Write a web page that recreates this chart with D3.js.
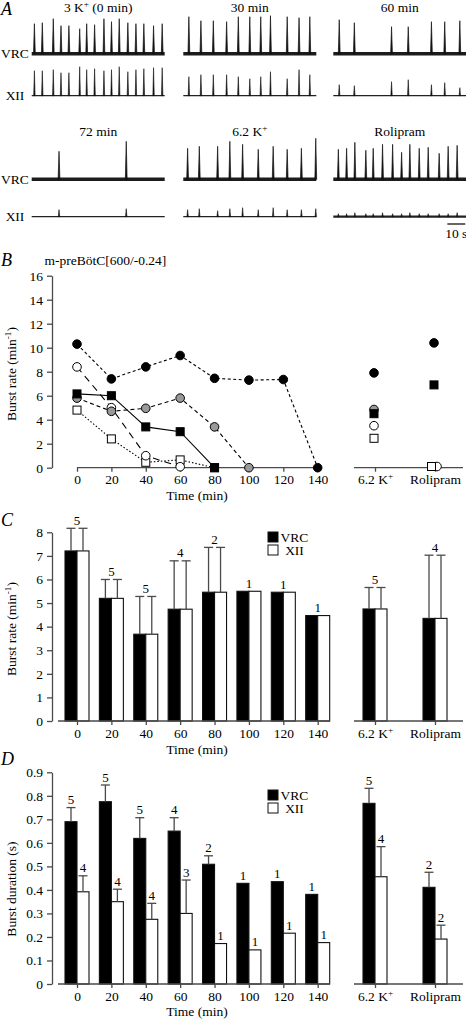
<!DOCTYPE html>
<html><head><meta charset="utf-8">
<script src="https://cdn.jsdelivr.net/npm/d3@7"></script>
<style>
body{margin:0;background:#fff}
svg{display:block}
text{font-family:"Liberation Serif","Times New Roman",serif;}
</style>
</head><body>
<script>
// ---------------- DATA ----------------
// Panel A: recordings (burst times in s, amplitudes in a.u.)
const traceTitles = ["3 K⁺ (0 min)", "30 min", "60 min", "72 min", "6.2 K⁺", "Rolipram"];
const burstTimes = [
  [1.5,5.9,12.0,16.3,20.7,26.7,30.6,35.0,40.2,44.4,48.7,53.5,58.0,62.4,67.8,72.6],
  [3.1,9.8,16.7,24.1,30.6,37.0,43.1,48.5,57.8,64.4,70.4],
  [3.3,11.7,32.4,41.7,54.6,62.0,70.4],
  [15.2,52.6],
  [2.4,8.9,19.1,25.9,33.0,41.7,50.0,57.8,65.7,73.7],
  [2.8,7.4,12.0,18.1,22.2,27.4,33.0,38.0,42.6,47.8,52.8,58.9,63.9,68.9]
];
const vrcAmps = [
  [3.0,3.1,3.5,2.8,2.8,2.5,3.0,2.9,3.5,3.2,3.5,3.1,3.0,3.0,2.8,3.0],
  [3.7,3.3,3.3,3.2,3.7,3.7,3.7,3.8,3.7,3.6,3.7],
  [3.4,3.1,2.7,2.7,3.2,3.2,3.3],
  [2.8,3.8],
  [3.1,3.3,3.3,3.8,3.5,3.0,3.3,3.0,3.1,4.1],
  [3.0,3.1,3.7,2.9,3.1,3.5,3.5,2.7,3.5,3.1,3.2,2.6,3.3,3.4]
];
const xiiAmps = [
  [2.5,2.5,2.6,2.3,2.3,2.9,2.6,2.7,2.5,2.6,2.9,2.4,2.6,2.7,2.8,2.8],
  [1.9,2.1,2.1,2.1,1.9,1.7,1.9,2.4,1.7,2.6,2.1],
  [1.1,1.0,1.4,1.6,1.1,1.3,0.8],
  [0.7,0.8],
  [0.7,0.8,0.6,0.8,0.9,0.7,0.9,0.7,0.7,0.8],
  [0.3,0.3,0.4,0.3,0.3,0.4,0.3,0.3,0.4,0.3,0.3,0.3,0.3,0.4]
];
const traceDuration = 74;   // s
const scaleBarSec = 10;     // s

// Panel B: burst rate per preparation
const timePts = [0,20,40,60,80,100,120,140];
const bFilledCircle = [10.3,7.4,8.4,9.35,7.45,7.3,7.35,0];
const bOpenCircle   = [8.4,5.0,1.0,0.08];
const bGrayCircle   = [5.8,4.7,4.95,5.8,3.4,0];
const bFilledSquare = [6.15,6.0,3.4,3.0,0];
const bOpenSquare   = [4.8,2.4,0.45,0.65,0];
const conditions = ["6.2 K⁺","Rolipram"];
const bCondFilledCircle = [7.9,10.4];
const bCondOpenCircle   = [3.5,0.1];
const bCondGrayCircle   = [4.85,null];
const bCondFilledSquare = [4.5,6.9];
const bCondOpenSquare   = [2.45,0.1];
const bTicks = [0,2,4,6,8,10,12,14,16];

// Panel C: mean burst rate
const cVRC    = [7.21,5.2,3.68,4.74,5.46,5.5,5.46,4.47];
const cVRCerr = [0.96,0.8,1.6,2.05,1.9,0,0,0];
const cXII    = [7.21,5.2,3.68,4.74,5.46,5.5,5.46,4.47];
const cXIIerr = [0.96,0.8,1.6,2.05,1.9,0,0,0];
const cN      = [5,5,5,4,2,1,1,1];
const cCondVRC    = [4.75,4.35];
const cCondVRCerr = [0.91,2.68];
const cCondXII    = [4.75,4.35];
const cCondXIIerr = [0.91,2.68];
const cCondN      = [5,4];
const cTicks = [0,1,2,3,4,5,6,7,8];

// Panel D: burst duration
const dVRC    = [0.69,0.775,0.619,0.65,0.509,0.428,0.435,0.381];
const dVRCerr = [0.06,0.071,0.088,0.057,0.036,0,0,0];
const dXII    = [0.392,0.35,0.275,0.30,0.172,0.145,0.216,0.176];
const dXIIerr = [0.068,0.053,0.068,0.142,0,0,0,0];
const dVRCn   = [5,5,5,4,2,1,1,1];
const dXIIn   = [4,4,4,3,1,1,1,1];
const dCondVRC    = [0.768,0.411];
const dCondVRCerr = [0.064,0.064];
const dCondXII    = [0.456,0.191];
const dCondXIIerr = [0.128,0.059];
const dCondVRCn   = [5,2];
const dCondXIIn   = [4,2];
const dTicks = [0,0.1,0.2,0.3,0.4,0.5,0.6,0.7,0.8,0.9];

const seriesNames = ["VRC","XII"];

// ---------------- HELPERS ----------------
const W = 466, H = 1019, FS = 13.5, AX = "#4a4a4a";
const svg = d3.select("body").append("svg").attr("width", W).attr("height", H);

function rich(sel, str) {
  sel.text(null);
  const supMap = {"⁺":"+","⁻":"-","¹":"1"};
  let buf = "", sup = false;
  const flush = () => {
    if (!buf) return;
    const t = sel.append("tspan").text(buf);
    if (sup) t.attr("baseline-shift","super").attr("font-size","68%");
    buf = "";
  };
  for (const ch of str) {
    const s = ch in supMap;
    if (s !== sup) { flush(); sup = s; }
    buf += s ? supMap[ch] : ch;
  }
  flush();
  return sel;
}
function text(x, y, str, opts = {}) {
  const t = svg.append("text").attr("x", x).attr("y", y)
    .attr("font-size", opts.size || FS)
    .attr("text-anchor", opts.anchor || "start")
    .attr("fill", "#000");
  if (opts.family) t.attr("font-family", opts.family);
  if (opts.italic) t.attr("font-style", "italic");
  if (opts.transform) t.attr("transform", opts.transform);
  rich(t, str);
  return t;
}
function styleAxis(g) {
  g.attr("font-family", null).attr("font-size", null);
  g.select(".domain").attr("stroke", AX).attr("stroke-width", 1.3);
  g.selectAll(".tick line").attr("stroke", AX).attr("stroke-width", 1.3);
  g.selectAll(".tick text").attr("font-size", FS).attr("fill", "#000")
    .attr("font-family", '"Liberation Serif","Times New Roman",serif');
}
function panelLetter(x, y, s) {
  text(x, y, s, {size: 18, italic: true, family: '"Liberation Sans",Arial,sans-serif'});
}

// ---------------- PANEL A ----------------
panelLetter(1, 15, "A");
const colX = [31.7, 183.3, 333.3], traceW = 133;
const rowY = [{title: 11.7, vrc: 53.7, xii: 95.7}, {title: 136.2, vrc: 179.3, xii: 216.7}];
const ampPx = d3.scaleLinear().domain([0, 1]).range([0, 10]);

rowY.forEach(r => {
  text(15, r.vrc + 4.5, "VRC", {anchor: "middle"});
  text(15, r.xii + 4.5, "XII", {anchor: "middle"});
});

traceTitles.forEach((title, i) => {
  const r = rowY[Math.floor(i / 3)], c = i % 3;
  const x = d3.scaleLinear().domain([0, traceDuration]).range([colX[c], colX[c] + traceW]);
  text(colX[c] + traceW / 2, r.title, title, {anchor: "middle"});
  const g = svg.append("g");
  // VRC baseline (noisy band)
  g.append("line").attr("x1", x(0)).attr("x2", x(traceDuration))
    .attr("y1", r.vrc).attr("y2", r.vrc).attr("stroke", "#1c1c1c").attr("stroke-width", 3.6);
  // XII baseline
  g.append("line").attr("x1", x(0)).attr("x2", x(traceDuration))
    .attr("y1", r.xii).attr("y2", r.xii).attr("stroke", "#222")
    .attr("stroke-width", i === 5 ? 2.2 : 1.2);
  const spike = (t, a, base, w) => {
    const xx = x(t), h = ampPx(a);
    return `M${xx - w},${base} L${xx},${base - h} L${xx + w},${base} Z`;
  };
  g.selectAll(".sv").data(burstTimes[i]).join("path")
    .attr("d", (t, k) => spike(t, vrcAmps[i][k], r.vrc, 0.9))
    .attr("fill", "#111").attr("stroke", "#111").attr("stroke-width", 0.7);
  g.selectAll(".sx").data(burstTimes[i]).join("path")
    .attr("d", (t, k) => spike(t, xiiAmps[i][k], r.xii, 0.7))
    .attr("fill", "#111").attr("stroke", "#111").attr("stroke-width", 0.6);
  if (i === 5) {
    svg.append("line").attr("x1", x(traceDuration - scaleBarSec) - 1).attr("x2", x(traceDuration) - 1)
      .attr("y1", 224).attr("y2", 224).attr("stroke", "#000").attr("stroke-width", 1.2);
    text((x(traceDuration - scaleBarSec) + x(traceDuration)) / 2 - 1, 237.5, "10 s", {anchor: "middle"});
  }
});

// ---------------- SHARED X SCALES ----------------
const xT = d3.scaleLinear().domain([0, 140]).range([77, 317.7]);
const xCond = d3.scalePoint().domain(conditions).range([375, 435]);
const yAxisX = 52;

function timeAxis(y, from, to) {
  const g = svg.append("g").attr("transform", `translate(0,${y})`)
    .call(d3.axisBottom(xT).tickValues(timePts).tickSize(4).tickSizeOuter(0).tickPadding(3));
  styleAxis(g);
  g.select(".domain").attr("d", `M${from},0H${to}`);
  const g2 = svg.append("g").attr("transform", `translate(0,${y})`)
    .call(d3.axisBottom(xCond).tickSize(4).tickSizeOuter(0).tickPadding(3));
  styleAxis(g2);
  g2.select(".domain").attr("d", `M354,0H463`);
  g2.selectAll(".tick text").each(function(d) { rich(d3.select(this), d); });
}
function yAxis(scale, ticks, fmt) {
  const g = svg.append("g").attr("transform", `translate(${yAxisX},0)`)
    .call(d3.axisLeft(scale).tickValues(ticks).tickSize(5).tickSizeOuter(0).tickPadding(4).tickFormat(fmt));
  styleAxis(g);
}

// ---------------- PANEL B ----------------
panelLetter(1, 266, "B");
text(44.5, 264.5, "m-preBötC[600/-0.24]");
const yB = d3.scaleLinear().domain([0, 16]).range([467.7, 275.7]);
yAxis(yB, bTicks, d3.format("d"));
timeAxis(467.7, 77, 318);
text(197, 499.5, "Time (min)", {anchor: "middle"});
text(0, 0, "Burst rate (min⁻¹)", {anchor: "middle", transform: "translate(15.5,374) rotate(-90)"});

const bSeries = [
  {vals: bOpenSquare,   shape: "square", fill: "#fff", dash: "1.5,2"},
  {vals: bOpenCircle,   shape: "circle", fill: "#fff", dash: "7,5"},
  {vals: bGrayCircle,   shape: "circle", fill: "#999", dash: "4,3"},
  {vals: bFilledSquare, shape: "square", fill: "#000", dash: null},
  {vals: bFilledCircle, shape: "circle", fill: "#000", dash: "3,2.5"}
];
const line = d3.line().x(d => xT(d.t)).y(d => yB(d.v));
bSeries.forEach(s => {
  const pts = s.vals.map((v, k) => ({t: timePts[k], v}));
  svg.append("path").attr("d", line(pts)).attr("fill", "none")
    .attr("stroke", "#000").attr("stroke-width", 1.1)
    .attr("stroke-dasharray", s.dash);
});
function marker(shape, cx, cy, fill) {
  if (shape === "circle") {
    svg.append("circle").attr("cx", cx).attr("cy", cy).attr("r", 4.3)
      .attr("fill", fill).attr("stroke", "#000").attr("stroke-width", 1);
  } else {
    svg.append("rect").attr("x", cx - 4).attr("y", cy - 4).attr("width", 8).attr("height", 8)
      .attr("fill", fill).attr("stroke", "#000").attr("stroke-width", 1);
  }
}
bSeries.forEach(s => {
  s.vals.forEach((v, k) => marker(s.shape, xT(timePts[k]), yB(v), s.fill));
});
const bCond = [
  {vals: bCondOpenCircle,   shape: "circle", fill: "#fff", nudge: 3},
  {vals: bCondGrayCircle,   shape: "circle", fill: "#999", nudge: 0},
  {vals: bCondFilledCircle, shape: "circle", fill: "#000", nudge: 0},
  {vals: bCondOpenSquare,   shape: "square", fill: "#fff", nudge: -2.5},
  {vals: bCondFilledSquare, shape: "square", fill: "#000", nudge: 0}
];
bCond.forEach(s => {
  s.vals.forEach((v, k) => {
    if (v == null) return;
    const cx = xCond(conditions[k]) + (conditions[k] === "Rolipram" ? s.nudge : 0) - 1;
    marker(s.shape, cx, yB(v), s.fill);
  });
});

// ---------------- BAR PANELS ----------------
const inner = d3.scaleBand().domain(seriesNames).range([-12, 12]).padding(0);
const fills = {VRC: "#000", XII: "#fff"};

function barGroup(cx, vals, errs, ns, y, pairLabel) {
  const tops = [];
  seriesNames.forEach((s, j) => {
    const x0 = cx + inner(s);
    const bw = inner.bandwidth();
    svg.append("rect").attr("x", x0).attr("y", y(vals[j])).attr("width", bw)
      .attr("height", y(0) - y(vals[j])).attr("fill", fills[s])
      .attr("stroke", "#111").attr("stroke-width", 1.1);
    let top = y(vals[j]);
    if (errs[j] > 0) {
      const ex = x0 + bw / 2, ey = y(vals[j] + errs[j]);
      svg.append("line").attr("x1", ex).attr("x2", ex).attr("y1", y(vals[j])).attr("y2", ey)
        .attr("stroke", AX).attr("stroke-width", 1.3);
      svg.append("line").attr("x1", ex - 4.5).attr("x2", ex + 4.5).attr("y1", ey).attr("y2", ey)
        .attr("stroke", AX).attr("stroke-width", 1.3);
      top = ey;
    }
    tops.push(top);
    if (!pairLabel) text(x0 + bw / 2, top - 3.5, String(ns[j]), {anchor: "middle", size: 13});
  });
  if (pairLabel) text(cx, Math.min(...tops) - 3.5, String(ns[0]), {anchor: "middle", size: 13});
}
function legend(x, y) {
  seriesNames.forEach((s, j) => {
    svg.append("rect").attr("x", x).attr("y", y + j * 13).attr("width", 10).attr("height", 10)
      .attr("fill", fills[s]).attr("stroke", "#111").attr("stroke-width", 1);
    text(x + 26.5, y + j * 13 + 10, s, {anchor: "middle"});
  });
}

// ---------------- PANEL C ----------------
panelLetter(1, 526, "C");
const yC = d3.scaleLinear().domain([0, 8]).range([721, 532.3]);
timePts.forEach((t, k) => barGroup(xT(t), [cVRC[k], cXII[k]], [cVRCerr[k], cXIIerr[k]], [cN[k], cN[k]], yC, true));
conditions.forEach((c, k) => barGroup(xCond(c), [cCondVRC[k], cCondXII[k]], [cCondVRCerr[k], cCondXIIerr[k]], [cCondN[k], cCondN[k]], yC, true));
yAxis(yC, cTicks, d3.format("d"));
timeAxis(721, 58, 330);
text(197, 754, "Time (min)", {anchor: "middle"});
text(0, 0, "Burst rate (min⁻¹)", {anchor: "middle", transform: "translate(15.5,629) rotate(-90)"});
legend(268, 532);

// ---------------- PANEL D ----------------
panelLetter(1, 765, "D");
const yD = d3.scaleLinear().domain([0, 0.9]).range([984, 772.3]);
timePts.forEach((t, k) => barGroup(xT(t), [dVRC[k], dXII[k]], [dVRCerr[k], dXIIerr[k]], [dVRCn[k], dXIIn[k]], yD, false));
conditions.forEach((c, k) => barGroup(xCond(c), [dCondVRC[k], dCondXII[k]], [dCondVRCerr[k], dCondXIIerr[k]], [dCondVRCn[k], dCondXIIn[k]], yD, false));
yAxis(yD, dTicks, d => d === 0 ? "0" : d3.format(".1f")(d));
timeAxis(984, 58, 330);
text(197, 1016, "Time (min)", {anchor: "middle"});
text(0, 0, "Burst duration (s)", {anchor: "middle", transform: "translate(15.5,889) rotate(-90)"});
legend(268, 790);
</script>
</body></html>
